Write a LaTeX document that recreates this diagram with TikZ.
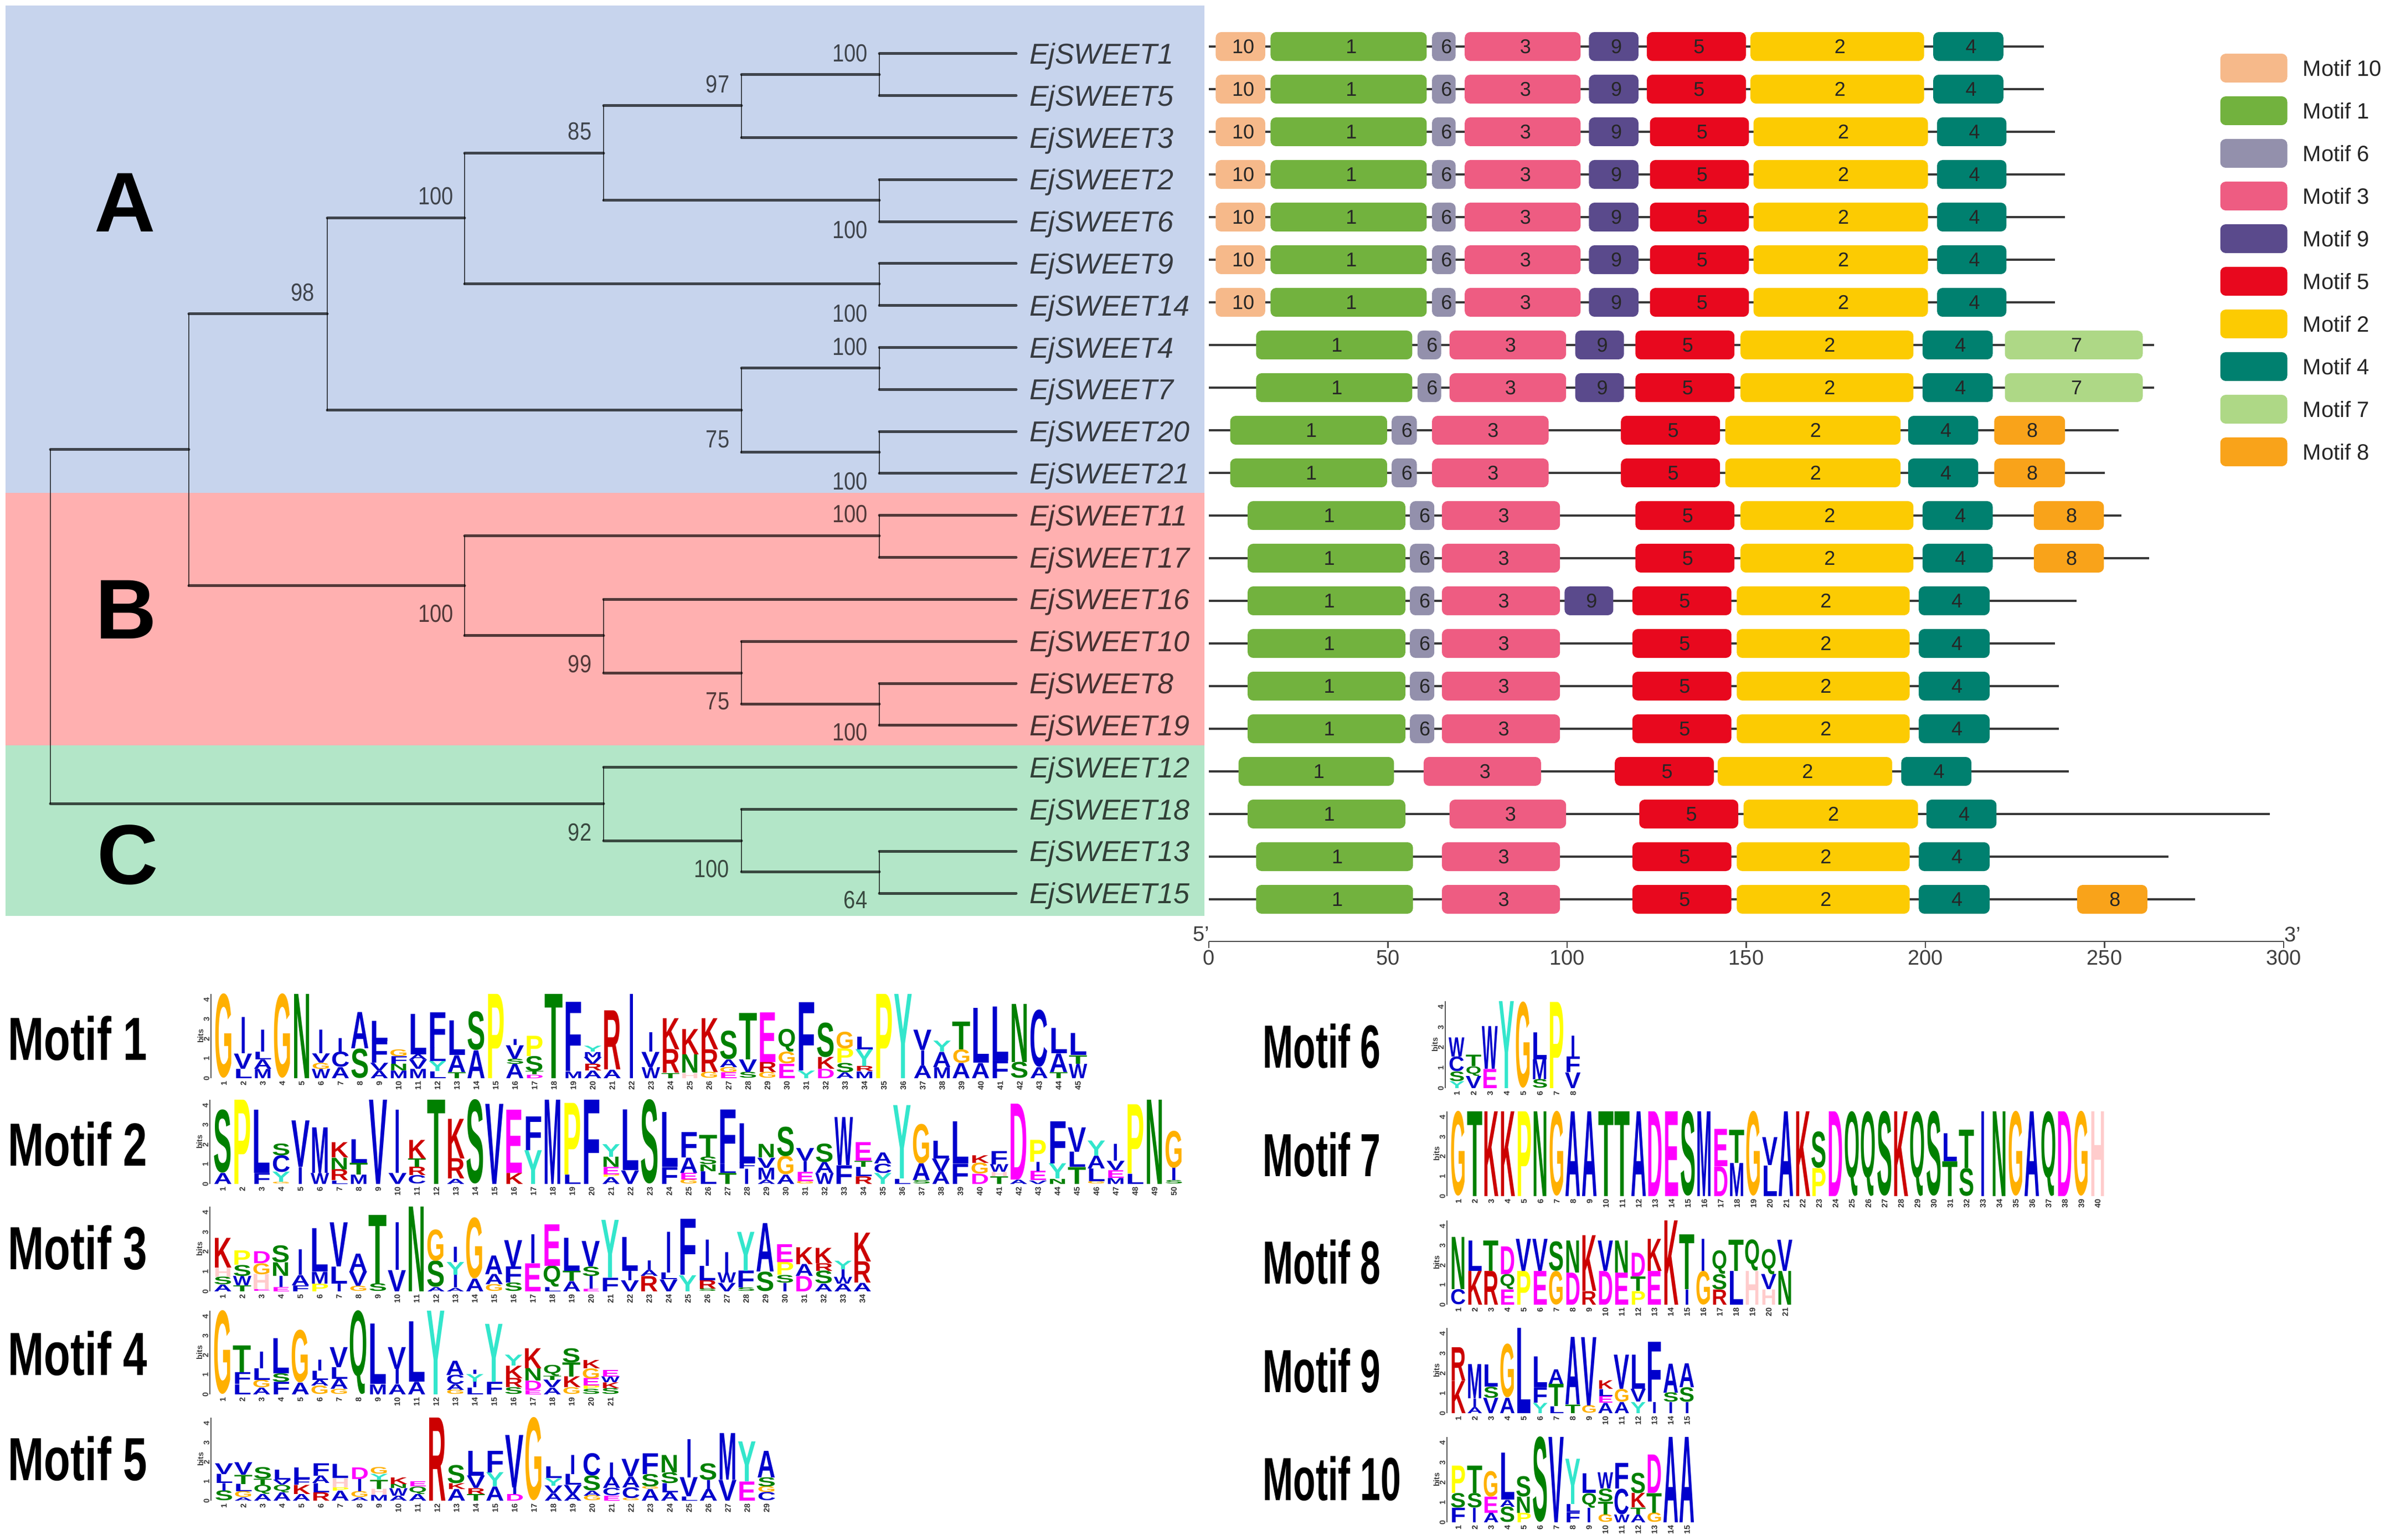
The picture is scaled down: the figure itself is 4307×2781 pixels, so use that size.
\documentclass[tikz,border=0pt]{standalone}
\usepackage{graphicx}
\usepackage{fontspec}
\setmainfont{Liberation Sans}
\newfontfamily\bootf[FakeStretch=.85]{Liberation Sans}
\newfontfamily\mlabL[FakeStretch=.71]{Liberation Sans}
\newfontfamily\mlabR[FakeStretch=.6]{Liberation Sans}
\definecolor{bandA}{HTML}{C7D4ED}\definecolor{bandB}{HTML}{FFB0B0}\definecolor{bandC}{HTML}{B3E6C8}
\definecolor{mot10}{HTML}{F6B98A}\definecolor{mot1}{HTML}{72B23E}\definecolor{mot6}{HTML}{9390AC}
\definecolor{mot3}{HTML}{EE5C82}\definecolor{mot9}{HTML}{5A4A8C}\definecolor{mot5}{HTML}{E8081E}
\definecolor{mot2}{HTML}{FCCB02}\definecolor{mot4}{HTML}{00806F}\definecolor{mot7}{HTML}{AED886}
\definecolor{mot8}{HTML}{F9A31A}
\definecolor{lgblue}{HTML}{0000CC}\definecolor{lggreen}{HTML}{008000}\definecolor{lgmag}{HTML}{FF00FF}
\definecolor{lgred}{HTML}{CC0000}\definecolor{lgor}{HTML}{FFB000}\definecolor{lgyel}{HTML}{FFFF00}
\definecolor{lgcy}{HTML}{33E6CC}\definecolor{lgpk}{HTML}{FFCCCC}
\colorlet{lgA}{lgblue}\colorlet{lgC}{lgblue}\colorlet{lgF}{lgblue}\colorlet{lgI}{lgblue}\colorlet{lgL}{lgblue}
\colorlet{lgM}{lgblue}\colorlet{lgV}{lgblue}\colorlet{lgW}{lgblue}\colorlet{lgN}{lggreen}\colorlet{lgQ}{lggreen}
\colorlet{lgS}{lggreen}\colorlet{lgT}{lggreen}\colorlet{lgD}{lgmag}\colorlet{lgE}{lgmag}\colorlet{lgK}{lgred}
\colorlet{lgR}{lgred}\colorlet{lgH}{lgpk}\colorlet{lgG}{lgor}\colorlet{lgP}{lgyel}\colorlet{lgY}{lgcy}
\tikzset{
  hz/.style={draw=black,draw opacity=.68,line width=1.25pt,line cap=round},
  vt/.style={draw=black,draw opacity=.68,line width=.7pt,line cap=round},
  leaf/.style={anchor=west,inner ysep=0pt,inner xsep=6pt,outer sep=0pt,text height=9.3pt,text depth=0pt,
     font=\fontsize{13}{13}\selectfont\itshape,text=black,text opacity=.72},
  boot/.style={inner sep=0pt,font=\bootf\fontsize{11.2}{12}\selectfont,text=black,text opacity=.68},
  bandlab/.style={inner sep=0pt,font=\fontsize{38.25}{40}\selectfont\bfseries},
  backbone/.style={draw=black!78,line width=.9pt},
  block/.style={inner sep=0pt,outer sep=0pt,rounded corners=2.5pt,minimum height=13pt,text=black!85,
     font=\fontsize{9}{9}\selectfont},
  legtext/.style={anchor=west,inner sep=0pt,font=\fontsize{10}{10}\selectfont,text=black!85},
  axisline/.style={draw=black!70,line width=.7pt},
  axlab/.style={inner sep=0pt,font=\fontsize{9.5}{10}\selectfont,text=black!75},
  motlabL/.style={anchor=west,inner sep=0pt,font=\mlabL\fontsize{27.5}{28}\selectfont\bfseries},
  motlabR/.style={anchor=west,inner sep=0pt,font=\mlabR\fontsize{27.5}{28}\selectfont\bfseries},
  letter/.style={inner sep=0pt,outer sep=0pt,anchor=south},
  logoaxis/.style={draw=black!65,line width=.5pt},
  axnum/.style={inner sep=0pt,font=\fontsize{3.6}{4}\selectfont\bfseries,text=black!75},
  posnum/.style={inner sep=0pt,anchor=east,font=\fontsize{3.6}{4}\selectfont\bfseries,text=black!80},
}
\newcount\stkc
\newcommand\logo[6]{%
  \draw[logoaxis] (#2-6,#3) coordinate (ax#1a) -- (#2-6,#3-#5) coordinate (ax#1t);
  \foreach \tk in {0,...,4}{\node[axnum,rotate=90] (ax#1n\tk) at (#2-14,{#3-#5*\tk/4.3}) {\tk};}
  \node[axnum,rotate=90] (ax#1b) at (#2-25,{#3-#5/2}) {bits};
  \foreach \col [count=\ci] in {#6}{%
    \global\stkc=0
    \pgfmathsetmacro\xc{#2+#4*(\ci-.5)}%
    \node[posnum,rotate=90] (p#1c\ci) at (\xc,#3+5) {\ci};
    \foreach \lett/\hgt in \col {%
      \pgfmathsetmacro\yy{#3-#5*\the\stkc/100}%
      \pgfmathsetmacro\hh{#5*\hgt*.0025}%
      \edef\wf{\if\lett I0.3\else0.95\fi}%
      \pgfmathsetmacro\ww{#4*.25*\wf}%
      \node[letter,text=lg\lett] (l#1c\ci\lett) at (\xc,\yy) {\resizebox*{\ww pt}{\hh pt}{\bfseries\lett}};
      \global\advance\stkc by \hgt\relax
    }%
  }%
}
\newcommand\genrow[4]{%
  \pgfmathsetmacro\ry{84+77*#2}%
  \pgfmathsetmacro\rx{2150+1.3756*#3}%
  \coordinate (r#1s) at (2183,\ry);
  \coordinate (r#1e) at (\rx,\ry);
  \draw[backbone] (r#1s) -- (r#1e);
  \foreach \m/\a/\b in #4 {%
    \pgfmathsetmacro\mx{2150+1.3756*(\a+\b)/2}%
    \pgfmathsetmacro\mw{(\b-\a)*1.3756*.25}%
    \node[block,fill=mot\m,minimum width=\mw pt] (r#1m\m) at (\mx,\ry) {\hspace*{2.5pt}\m};
  }%
}
\newcommand\clade[4]{%
  \coordinate (#1) at (#2);
  \draw[vt] (#1 |- #3) -- (#1 |- #4);
  \draw[hz] (#1 |- #3) -- (#3);
  \draw[hz] (#1 |- #4) -- (#4);
}
\def\listA{10/33/98,1/105/310,6/317/348,3/360/512,9/523/588,5/599/729,2/735/963,4/975/1067}
\def\listB{10/33/98,1/105/310,6/317/348,3/360/512,9/523/588,5/603/733,2/739/968,4/980/1071}
\def\listC{1/86/291,6/298/329,3/340/493,9/505/569,5/584/714,2/722/949,4/961/1053,7/1069/1250}
\def\listD{1/52/258,6/264/297,3/317/470,5/565/695,2/702/932,4/942/1034,8/1055/1148}
\def\listE{1/75/282,6/288/320,3/330/485,5/584/714,2/722/949,4/961/1053,8/1107/1199}
\def\listF{1/75/282,6/288/320,3/330/485,5/580/710,2/717/944,4/956/1049}
\begin{document}
\begin{tikzpicture}[x=.25pt,y=-.25pt]
\useasboundingbox (0,0) rectangle (4307,2781);
\fill[white] (0,0) rectangle (4307,2781);
\fill[bandA] (10,10) rectangle (2175,890);
\fill[bandB] (10,890) rectangle (2175,1346);
\fill[bandC] (10,1346) rectangle (2175,1654);
\node[bandlab] (labA) at (226,366) {A};
\node[bandlab] (labB) at (228,1101) {B};
\node[bandlab] (labC) at (231,1544) {C};
\foreach \n/\i in {1/0,5/1,3/2,2/3,6/4,9/5,14/6,4/7,7/8,20/9,21/10,11/11,17/12,16/13,10/14,8/15,19/16,12/17,18/18,13/19,15/20}{
  \node[leaf] (s\n) at (1835,{97+75.8*\i}) {EjSWEET\n};
}
\clade{a15}{1588,135}{s1.west}{s5.west}
\clade{a97}{1339,191}{a15}{s3.west}
\clade{a26}{1588,362}{s2.west}{s6.west}
\clade{a85}{1090,277}{a97}{a26}
\clade{a914}{1588,513}{s9.west}{s14.west}
\clade{a100}{839,394}{a85}{a914}
\clade{a47}{1588,665}{s4.west}{s7.west}
\clade{a2021}{1588,817}{s20.west}{s21.west}
\clade{a75}{1339,741}{a47}{a2021}
\clade{a98}{591,567}{a100}{a75}
\clade{b1117}{1588,968}{s11.west}{s17.west}
\clade{b819}{1588,1271}{s8.west}{s19.west}
\clade{b75}{1339,1215}{s10.west}{b819}
\clade{b99}{1090,1148}{s16.west}{b75}
\clade{b100}{839,1058}{b1117}{b99}
\clade{ab}{341,812}{a98}{b100}
\clade{c1315}{1588,1574}{s13.west}{s15.west}
\clade{c100}{1339,1518}{s18.west}{c1315}
\clade{c92}{1090,1451}{s12.west}{c100}
\clade{root}{91,1131}{ab}{c92}
\foreach \v/\x/\y [count=\c] in {100/1535/96,97/1296/152,85/1047/237,100/787/354,98/547/528,100/1535/415,100/1535/566,100/1535/626,75/1296/793,100/1535/869,100/1535/928,100/787/1108,99/1047/1199,75/1296/1266,100/1535/1322,92/1047/1503,100/1285/1569,64/1545/1625}{
  \node[boot] (bs\c) at (\x,\y) {\v};
}
\genrow{a}{0}{1120}{\listA}
\genrow{b}{1}{1120}{\listA}
\genrow{c}{2}{1135}{\listB}
\genrow{d}{3}{1148}{\listB}
\genrow{e}{4}{1148}{\listB}
\genrow{f}{5}{1135}{\listB}
\genrow{g}{6}{1135}{\listB}
\genrow{h}{7}{1265}{\listC}
\genrow{i}{8}{1265}{\listC}
\genrow{j}{9}{1218}{\listD}
\genrow{k}{10}{1200}{\listD}
\genrow{l}{11}{1222}{\listE}
\genrow{m}{12}{1258}{\listE}
\genrow{n}{13}{1163}{{1/75/282,6/288/320,3/330/485,9/491/555,5/580/710,2/717/944,4/956/1049}}
\genrow{o}{14}{1135}{\listF}
\genrow{p}{15}{1140}{\listF}
\genrow{q}{16}{1140}{\listF}
\genrow{r}{17}{1153}{{1/63/267,3/306/460,5/557/687,2/692/921,4/933/1025}}
\genrow{s}{18}{1417}{{1/75/282,3/340/493,5/589/719,2/726/955,4/966/1058}}
\genrow{t}{19}{1284}{{1/86/292,3/330/485,5/580/710,2/717/944,4/956/1049}}
\genrow{u}{20}{1319}{{1/86/292,3/330/485,5/580/710,2/717/944,4/956/1049,8/1164/1256}}
\foreach \m [count=\c from 0] in {10,1,6,3,9,5,2,4,7,8}{
  \pgfmathsetmacro\ly{123+77*\c}
  \node[block,fill=mot\m,minimum width=30.25pt] (leg\m) at (4070,\ly) {};
  \node[legtext] (legt\m) at (4158,\ly) {Motif \m};
}
\coordinate (ax0) at (2183,1700);
\coordinate (ax300) at (4124,1700);
\draw[axisline] (ax0) -- (ax300);
\foreach \t in {0,50,100,150,200,250,300}{
  \pgfmathsetmacro\tx{2183+6.47*\t}
  \coordinate (tk\t) at (\tx,1700);
  \draw[axisline] (tk\t) -- ++(0,12);
  \node[axlab] (tl\t) at (\tx,1729) {\t};
}
\node[axlab] (five) at (2169,1687) {5'};
\node[axlab] (three) at (4140,1687) {3'};
\foreach \n/\y in {1/1875,2/2066,3/2253,4/2444,5/2634}{\node[motlabL] (mn\n) at (14,\y) {Motif \n};}
\foreach \n/\y in {6/1889,7/2085,8/2279,9/2475,10/2670}{\node[motlabR] (mn\n) at (2280,\y) {Motif \n};}
\logo{one}{387}{1947}{35.05}{152}{{G/100},{L/11,V/18,I/43},{M/11,A/11,L/9,I/26},{G/100},{N/100},{W/11,G/7,V/11,I/28},{A/13,C/18,I/16},{S/35,A/43},{A/9,V/9,F/26,L/24},{M/9,N/8,F/9,G/8},{M/11,V/11,A/6,L/48},{L/8,Y/12,L/16,F/42},{T/7,A/20,L/41},{A/33,S/46},{P/100},{A/17,S/6,V/16,I/7},{D/4,T/4,S/18,P/24},{T/100},{M/8,F/82},{A/9,R/8,V/8,M/6,Y/7},{A/10,R/70},{I/100},{W/13,V/18,I/23},{T/6,R/28,K/37},{H/6,N/22,K/30},{G/7,R/27,K/37},{E/7,G/6,A/9,S/34},{S/7,V/15,T/55},{G/7,R/12,E/59},{E/17,G/14,Q/27},{Y/9,F/81},{D/11,K/14,S/41},{A/7,S/11,P/17,G/20},{M/8,R/6,Y/20,L/15},{P/100},{Y/100},{A/15,I/18,V/24},{M/13,A/18,Y/13},{A/18,G/16,T/33},{A/18,L/65},{F/21,L/64},{S/19,N/69},{A/13,C/68},{T/7,A/22,L/30},{W/17,T/10,L/26}}
\logo{two}{385}{2138}{35.05}{152}{{A/13,S/75},{P/100},{F/13,L/75},{G/2,Y/12,C/20,S/14},{I/20,V/55},{W/13,M/54},{L/4,R/13,N/14,K/18},{M/11,T/14,L/28},{V/100},{V/13,I/75},{C/10,R/10,T/10,K/22},{T/100},{A/6,R/24,K/47},{S/100},{V/95},{K/13,E/75},{Y/40,F/40},{M/100},{L/11,P/85},{F/100},{A/8,P/3,E/9,N/12,Y/15},{V/16,L/72},{S/100},{F/20,L/65},{G/5,E/8,A/18,F/30},{L/15,N/8,S/9,T/26},{T/13,L/11,F/64},{I/18,F/7,L/47},{A/5,M/14,V/12,N/16},{A/11,G/22,S/35},{G/3,E/11,I/13,V/15},{W/13,A/13,S/22},{F/22,W/57},{R/9,L/11,T/7,E/22},{Y/13,C/11,A/13},{L/6,Y/87},{S/4,A/20,G/47},{A/15,V/15,L/21},{F/24,L/50},{D/12,G/13,K/9},{T/9,H/5,W/9,F/16},{A/5,D/90},{V/4,E/11,I/11,P/26},{N/6,Y/18,F/50},{T/20,L/18,V/29},{G/3,L/15,A/15,Y/18},{M/7,E/9,V/11,I/20},{L/12,P/82},{N/100},{S/4,I/15,G/44}}
\logo{three}{385}{2332}{35}{153}{{A/8,S/9,H/11,K/35},{T/7,W/11,S/13,P/17},{E/2,H/18,G/13,D/14},{E/5,I/13,N/16,S/20},{F/7,A/12,I/30},{P/9,M/14,L/51},{I/9,L/20,V/52},{G/6,V/17,A/21},{S/9,T/81},{V/25,I/56},{N/100},{A/5,S/31,G/37},{A/4,I/15,Y/15,I/18},{A/15,G/72},{G/8,A/12,A/22},{S/10,F/19,V/31},{E/33,I/34},{L/5,Q/25,E/49},{A/12,T/12,L/39},{E/3,I/15,S/11,V/30},{F/16,Y/68},{V/13,I/11,L/40},{R/18,A/7,I/11},{V/14,L/8,I/48},{Y/19,F/66},{S/3,R/10,L/17,I/31},{V/10,W/12,I/24},{S/4,F/20,Y/46},{S/23,A/57},{I/10,S/9,P/15,E/21},{D/18,A/14,K/20},{A/9,S/15,R/9,K/18},{A/9,W/8,I/9,Y/10},{A/10,R/25,K/34}}
\logo{four}{385}{2518}{35}{151}{{G/100},{L/12,F/14,T/32},{A/8,G/9,L/14,I/20},{F/15,S/10,L/42},{A/14,G/63},{G/10,A/7,L/11,I/13},{G/6,A/12,L/14,V/24},{Q/100},{M/12,L/72},{A/12,I/18,V/26},{A/15,L/72},{Y/100},{G/5,A/7,C/11,A/17},{L/8,I/7,Y/9,I/5},{F/15,Y/69},{S/8,R/11,K/15,Y/13},{E/5,D/11,N/15,K/24},{A/8,V/9,T/5,Q/13},{G/8,K/13,T/17,S/17},{S/6,P/4,E/9,G/12,K/10},{S/7,K/7,W/7,E/8}}
\logo{five}{387}{2710}{35}{150}{{S/12,I/9,L/11,V/13},{A/4,G/7,L/9,T/11,V/15},{A/8,Q/11,T/7,S/14},{A/10,Q/9,V/6,L/12},{A/8,K/11,F/7,L/14},{R/10,L/11,A/9,F/15},{A/12,P/4,H/11,L/17},{A/4,G/7,I/15,D/14},{M/7,H/7,T/11,Y/7,G/8},{A/6,W/9,N/5,K/8},{A/8,Q/9,E/6},{R/100},{A/14,K/7,S/22},{T/8,R/7,V/15,L/30},{A/17,Y/17,F/26},{D/8,I/8,V/63},{G/100},{A/9,V/9,Y/9,L/14},{A/8,V/11,L/13,I/23},{G/6,A/6,S/18,C/27},{E/6,C/9,A/13,I/18},{G/3,C/13,A/13,V/21},{A/14,G/3,S/15,F/25},{A/10,L/11,S/13,N/21},{L/5,V/23,I/46},{A/14,I/11,S/20},{V/25,M/56},{E/23,Y/48},{C/10,G/7,S/11,A/32}}
\logo{six}{2616}{1965}{30}{157}{{Y/8,S/11,C/17,W/22},{V/14,Q/11,T/13},{E/22,W/49},{Y/100},{G/99},{S/10,M/23,L/31},{P/99},{V/18,F/18,I/24}}
\logo{seven}{2619}{2160}{29.6}{153}{{G/100},{T/100},{K/100},{K/100},{P/100},{N/100},{G/100},{A/100},{A/100},{T/100},{T/100},{A/100},{D/100},{E/100},{S/100},{M/100},{D/35,E/44},{M/39,T/39},{G/100},{L/36,V/33},{A/100},{K/100},{P/33,S/43},{D/100},{Q/100},{Q/100},{S/100},{K/100},{Q/100},{S/100},{T/41,L/33},{S/33,T/45},{I/100},{N/100},{G/100},{A/100},{Q/100},{D/100},{G/100},{H/100}}
\logo{eight}{2619}{2356}{29.5}{152}{{C/18,N/62},{K/40,L/36},{R/40,T/36},{E/18,Q/18,D/33},{P/40,V/38},{E/40,V/38},{G/40,S/35},{D/38,N/38},{R/16,K/66},{D/40,V/36},{E/38,N/38},{P/16,T/17,D/28},{E/40,K/38},{K/100},{I/18,T/65},{G/40,I/38},{R/18,S/18,Q/28},{L/40,T/37},{H/40,Q/37},{H/18,V/18,Q/30},{N/40,V/37}}
\logo{nine}{2619}{2552}{29.5}{154}{{K/38,R/39},{A/7,I/10,M/40},{V/18,S/13,L/26},{A/18,G/63},{L/100},{Y/12,F/18,L/36},{L/8,T/26,A/17},{T/10,A/79},{G/9,V/80},{A/12,E/8,L/8,K/10},{A/13,G/15,V/40},{Y/13,V/15,L/40},{I/13,F/70},{I/13,S/11,A/34},{I/13,S/17,A/28}}
\logo{ten}{2619}{2749}{29.5}{154}{{F/17,S/17,P/32},{I/17,S/17,T/32},{A/11,E/19,G/30},{S/18,A/8,L/55},{P/11,N/19,S/24},{S/100},{V/100},{F/12,L/9,Y/53},{I/17,Q/17,L/23},{G/9,T/15,S/15,W/19},{W/9,C/30,F/30},{A/9,T/8,K/17,S/24},{G/11,T/23,D/45},{A/100},{A/100}}
\end{tikzpicture}
\end{document}
